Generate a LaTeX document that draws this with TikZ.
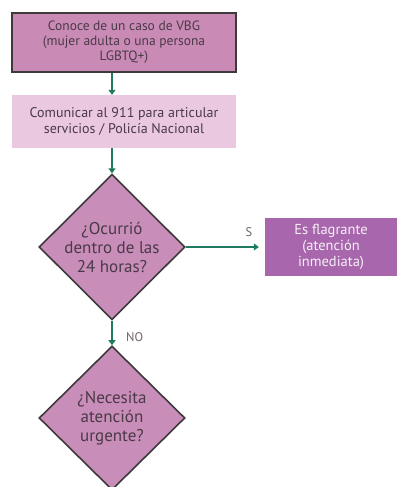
\documentclass[tikz,border=0pt]{standalone}
\usepackage{fontspec}
\setmainfont{PT Sans}
\usetikzlibrary{shapes.geometric,arrows.meta}
\definecolor{boxA}{HTML}{C98AB6}
\definecolor{boxB}{HTML}{EAC8DF}
\definecolor{boxC}{HTML}{A866AC}
\definecolor{dia}{HTML}{C88DB9}
\definecolor{edge}{HTML}{3E3A3C}
\definecolor{arr}{HTML}{1F7A60}
\definecolor{txt}{HTML}{4A3A46}
\tikzset{
  flow/.style={draw=arr,line width=1.6pt,-{Triangle[width=7pt,length=5pt]}},
  lab/.style={text=txt!80,font=\fontsize{12.5}{14}\selectfont},
  decis/.style={diamond,draw=edge,line width=1.6pt,fill=dia,inner sep=0pt,
    minimum width=146pt,minimum height=144pt,align=center,text=txt,
    font=\fontsize{17}{19}\selectfont},
}
\begin{document}
\begin{tikzpicture}[x=1pt,y=-1pt]
\useasboundingbox (0,0) rectangle (397,487);
\fill[white] (0,0) rectangle (397,487);
\node[draw=edge,line width=2pt,fill=boxA,minimum width=224pt,minimum height=59pt,
  align=center,text=txt,font=\fontsize{13.5}{15}\selectfont,inner sep=0pt]
  (b1) at (124,42.5) {Conoce de un caso de VBG\\(mujer adulta o una persona\\LGBTQ+)};
\node[fill=boxB,minimum width=224pt,minimum height=53pt,align=center,text=txt,
  font=\fontsize{14}{15.5}\selectfont,inner sep=0pt]
  (b2) at (124,121.5) {Comunicar al 911 para articular\\servicios / Policía Nacional};
\node[decis] (d1) at (112,247) {¿Ocurrió\\dentro de las\\24 horas?};
\node[fill=boxC,minimum width=132pt,minimum height=58pt,align=center,
  text=white!90!boxC,font=\fontsize{14.5}{16}\selectfont,inner sep=0pt]
  (b3) at (331,247) {Es flagrante\\(atención\\inmediata)};
\node[decis] (d2) at (112,418) {¿Necesita\\atención\\urgente?};
\draw[flow] (b1.south -| d1.north) -- (b2.north -| d1.north);
\draw[flow] (b2.south -| d1.north) -- (d1.north);
\draw[flow,shorten >=6pt] (d1.east) -- node[lab,above,pos=0.8,yshift=6pt]{S} (b3.west);
\draw[flow] (d1.south) -- node[lab,right,xshift=10pt,yshift=-4pt]{NO} (d2.north);
\end{tikzpicture}
\end{document}
